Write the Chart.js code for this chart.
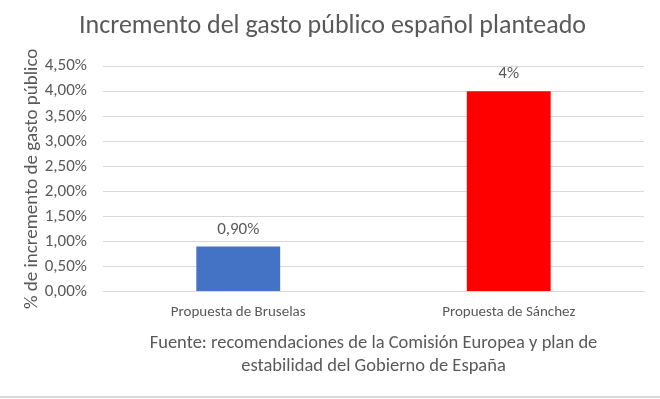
<!DOCTYPE html>
<html>
<head>
<meta charset="utf-8">
<script src="https://cdn.jsdelivr.net/npm/chart.js@4"></script>
<style>
  body { margin: 0; background: #fff; }
  #wrap { width: 660px; height: 396px; border-bottom: 2px solid #d9d9d9; }
</style>
</head>
<body>
<div id="wrap"><canvas id="bar-chart" width="660" height="396"></canvas></div>
<script>
/* datos */
const categorias = ["Propuesta de Bruselas", "Propuesta de Sánchez"]
const valores = [0.9, 4]
const etiquetas = ["0,90%", "4%"]
const colores = ["#4472C4", "#FF0000"]

const fuente = "Carlito, Calibri, Lato, sans-serif"
const gris = "#595959"

/* etiquetas encima de las barras */
const etiquetasBarras = {
    id: "etiquetasBarras",
    afterDatasetsDraw(chart) {
        const ctx = chart.ctx
        const meta = chart.getDatasetMeta(0)
        ctx.save()
        ctx.font = "17px " + fuente
        ctx.fillStyle = gris
        ctx.textAlign = "center"
        ctx.textBaseline = "middle"
        meta.data.forEach((barra, i) => {
            ctx.fillText(etiquetas[i], barra.x, barra.y - 17)
        })
        ctx.restore()
    }
}

const contenedor = document.querySelector("#bar-chart").getContext("2d")

const grafico = new Chart(contenedor, {
    type: "bar",
    data: {
        labels: categorias,
        datasets: [
            {
                data: valores,
                backgroundColor: colores,
                barPercentage: 0.31,
                categoryPercentage: 1,
            },
        ]
    },
    options: {
        responsive: false,
        animation: false,
        layout: { padding: { left: 21, right: 16, top: 11, bottom: 15 } },
        plugins: {
            legend: { display: false },
            tooltip: { enabled: false },
            title: {
                display: true,
                text: "Incremento del gasto público español planteado",
                color: gris,
                font: { family: fuente, size: 26, weight: "normal" },
                padding: { top: 0, bottom: 24 },
            },
        },
        scales: {
            x: {
                grid: { display: false, drawTicks: false },
                border: { color: "#d9d9d9" },
                ticks: { color: gris, font: { family: fuente, size: 15 }, padding: 12 },
                title: {
                    display: true,
                    text: ["Fuente: recomendaciones de la Comisión Europea y plan de", "estabilidad del Gobierno de España"],
                    color: gris,
                    font: { family: fuente, size: 18.5, lineHeight: 1.2 },
                    padding: { top: -1 },
                },
            },
            y: {
                min: 0,
                max: 4.5,
                afterFit: escala => { escala.width = 82 },
                ticks: {
                    stepSize: 0.5,
                    color: gris,
                    font: { family: fuente, size: 17 },
                    padding: 16,
                    callback: v => v.toFixed(2).replace(".", ",") + "%",
                },
                grid: { color: "#d9d9d9", drawTicks: false },
                border: { display: false },
                title: {
                    display: true,
                    text: "% de incremento de gasto público",
                    color: gris,
                    font: { family: fuente, size: 19 },
                    padding: { top: 0, bottom: 0 },
                },
            },
        },
    },
    plugins: [etiquetasBarras],
})
</script>
</body>
</html>
